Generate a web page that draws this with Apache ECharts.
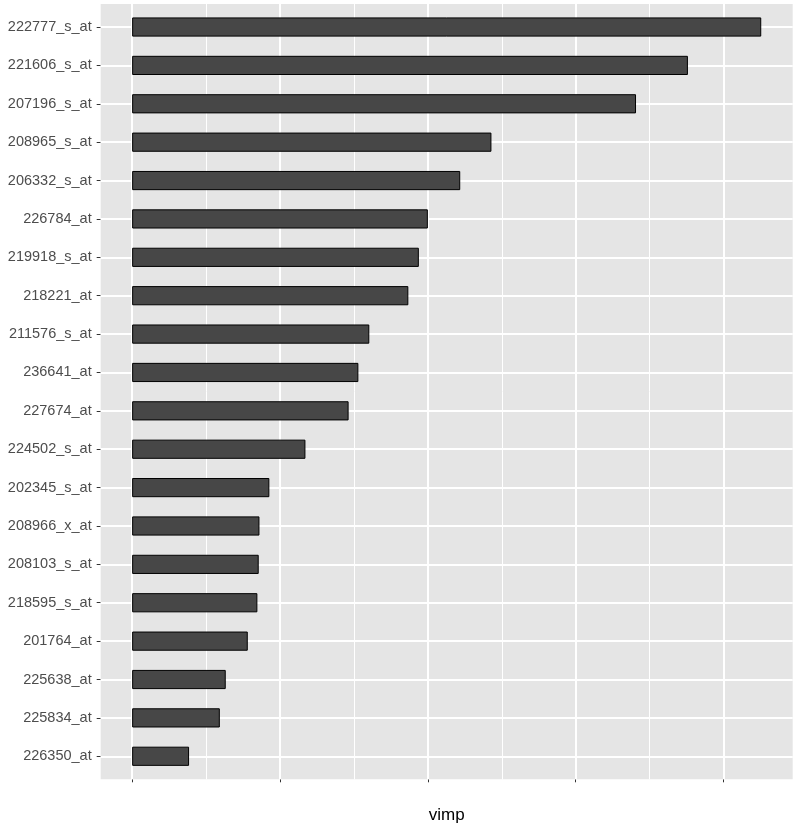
<!DOCTYPE html>
<html>
<head>
<meta charset="utf-8">
<script src="https://cdn.jsdelivr.net/npm/echarts@6/dist/echarts.min.js"></script>
<style>
  html, body { margin: 0; padding: 0; background: #ffffff; }
  #chart { width: 800px; height: 831px; }
</style>
</head>
<body>
<div id="chart"></div>
<script>
// categories, top to bottom
const categories = [
  '222777_s_at', '221606_s_at', '207196_s_at', '208965_s_at', '206332_s_at',
  '226784_at', '219918_s_at', '218221_at', '211576_s_at', '236641_at',
  '227674_at', '224502_s_at', '202345_s_at', '208966_x_at', '208103_s_at',
  '218595_s_at', '201764_at', '225638_at', '225834_at', '226350_at'
];
// variable importance values (estimated; axis labels are blank in the original)
const vimp = [
  4.255, 3.759, 3.408, 2.430, 2.219,
  2.000, 1.939, 1.868, 1.604, 1.530,
  1.464, 1.172, 0.928, 0.861, 0.856,
  0.847, 0.782, 0.633, 0.593, 0.385
];
const majorBreaks = [0, 1, 2, 3, 4];
const minorBreaks = [0.5, 1.5, 2.5, 3.5];

// layout
const W = 800, H = 831;
const panel = { left: 100.7, right: 7.3, top: 4, bottom: 51.7 };
const n = categories.length;
const catPositions = categories.map((c, i) => i + 1);
const catMin = 1 - 0.6, catMax = n + 0.6;           // ggplot discrete expansion
const band = (H - panel.top - panel.bottom) / (catMax - catMin);
const inset = 0.1 * band;                          // 0.6 vs ECharts' 0.5 band padding

const dataMax = Math.max.apply(null, vimp);
const pad = dataMax * 0.05;
const xMin = -pad, xMax = dataMax + pad;

const white = (w) => ({ color: '#ffffff', width: w, type: 'solid' });
const gridLines = []
  .concat(minorBreaks.map(v => ({ xAxis: v, lineStyle: white(1) })))
  .concat(majorBreaks.map(v => ({ xAxis: v, lineStyle: white(2) })))
  .concat(catPositions.map(p => ({ yAxis: p, lineStyle: white(2) })));

const chart = echarts.init(document.getElementById('chart'), null, { renderer: 'canvas' });
chart.setOption({
  animation: false,
  backgroundColor: '#ffffff',
  grid: [
    {
      left: panel.left, right: panel.right, top: panel.top, bottom: panel.bottom,
      show: true, backgroundColor: '#e5e5e5', borderWidth: 0
    },
    {
      left: panel.left, right: panel.right, top: panel.top + inset, bottom: panel.bottom + inset,
      show: false
    }
  ],
  xAxis: [
    {
      gridIndex: 0,
      type: 'value',
      min: xMin, max: xMax,
      name: 'vimp',
      nameLocation: 'middle',
      nameGap: 28,
      nameTextStyle: { fontFamily: 'Liberation Sans', fontSize: 17, color: '#000000' },
      axisLine: { show: false, onZero: false },
      axisLabel: { show: false },
      axisTick: { show: true, customValues: majorBreaks, length: 3, lineStyle: { color: '#333333', width: 1 } },
      splitLine: { show: false }
    },
    {
      gridIndex: 1,
      type: 'value',
      min: xMin, max: xMax,
      axisLine: { show: false, onZero: false },
      axisLabel: { show: false },
      axisTick: { show: false },
      splitLine: { show: false }
    }
  ],
  yAxis: [
    {
      gridIndex: 0,
      type: 'value',
      min: catMin, max: catMax,
      inverse: true,
      axisLine: { show: false, onZero: false },
      axisLabel: { show: false },
      axisTick: { show: true, customValues: catPositions, length: 4, lineStyle: { color: '#333333', width: 1 } },
      splitLine: { show: false }
    },
    {
      gridIndex: 1,
      type: 'category',
      data: categories,
      inverse: true,
      axisLine: { show: false, onZero: false },
      axisTick: { show: false },
      axisLabel: { fontFamily: 'Liberation Sans', fontSize: 14.5, color: '#4d4d4d', margin: 9 },
      splitLine: { show: false }
    }
  ],
  series: [
    {
      type: 'line',
      xAxisIndex: 0, yAxisIndex: 0,
      data: [],
      z: 1,
      silent: true,
      markLine: {
        z: 1,
        silent: true,
        symbol: ['none', 'none'],
        label: { show: false },
        animation: false,
        data: gridLines
      }
    },
    {
      type: 'bar',
      xAxisIndex: 1, yAxisIndex: 1,
      data: vimp,
      z: 3,
      barWidth: '50%',
      itemStyle: { color: '#474747', borderColor: '#000000', borderWidth: 1 }
    }
  ]
});
</script>
</body>
</html>
